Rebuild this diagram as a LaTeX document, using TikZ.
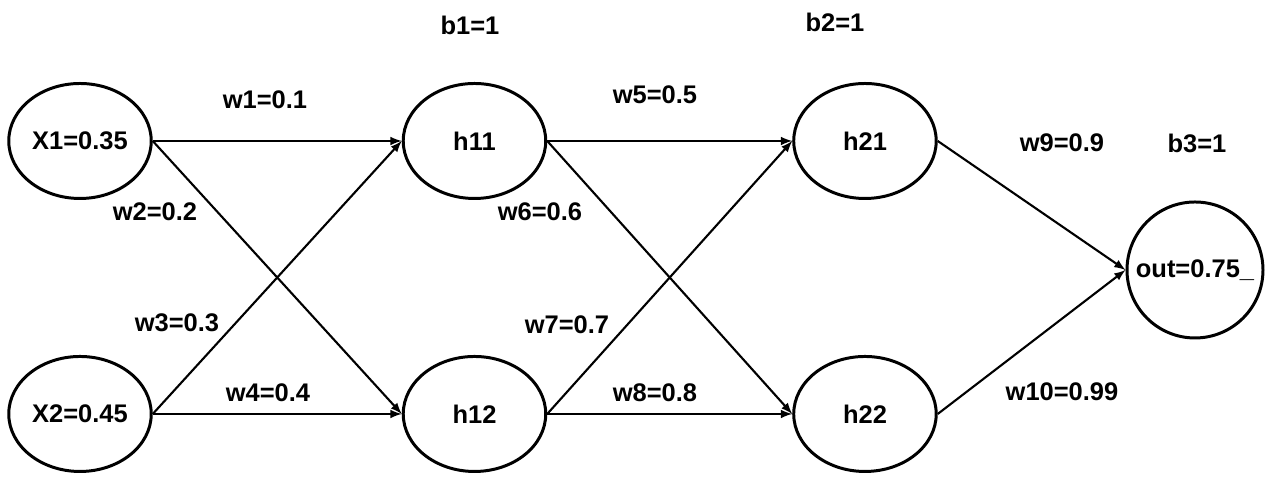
\documentclass[tikz,border=0pt]{standalone}
\usepackage{fontspec}
\setmainfont{Liberation Sans}
\usepackage{tikz}
\tikzset{neuron/.style={draw,ellipse,line width=1.7pt,minimum width=2.85cm,minimum height=2.3cm,inner sep=0pt} }
\tikzset{outneuron/.style={draw,circle,line width=1.7pt,minimum size=2.72cm,inner sep=0pt} }
\tikzset{wire/.style={-latex,line width=1.2pt} }
\usetikzlibrary{positioning,shapes.geometric}

\begin{document}
\begin{tikzpicture}[font=\fontsize{14.5}{17}\selectfont\bfseries]
    \useasboundingbox (0,0) rectangle (25.3,9.54);
    \node[neuron] (x1) at (1.6,6.72) {X1=0.35};
    \node[neuron,below=3.1cm of x1] (x2) {X2=0.45};
    \node[neuron,right=4.98cm of x1] (h11) {h11};
    \node[neuron,below=3.1cm of h11] (h12) {h12};
    \node[neuron,right=4.9cm of h11] (h21) {h21};
    \node[neuron,below=3.1cm of h21] (h22) {h22};
    \node[outneuron] (out) at (23.9,4.14) {out=0.75\_};
    % biases
    \node (b1) at (9.4,9.04) {b1=1};
    \node (b2) at (16.7,9.1) {b2=1};
    \node (b3) at (23.94,6.68) {b3=1};
    % weights
    \node (w1) at (5.3,7.54) {w1=0.1};
    \node (w2) at (3.1,5.3) {w2=0.2};
    \node (w3) at (3.54,3.08) {w3=0.3};
    \node (w4) at (5.36,1.68) {w4=0.4};
    \node (w5) at (13.1,7.64) {w5=0.5};
    \node (w6) at (10.8,5.3) {w6=0.6};
    \node (w7) at (11.34,3.04) {w7=0.7};
    \node (w8) at (13.1,1.68) {w8=0.8};
    \node (w9) at (21.24,6.68) {w9=0.9};
    \node (w10) at (21.24,1.7) {w10=0.99};
    \draw[wire] (x1.east) -- (h11.west);
    \draw[wire] (x1.east) -- (h12.west);
    \draw[wire] (x2.east) -- (h11.west);
    \draw[wire] (x2.east) -- (h12.west);
    \draw[wire] (h11.east) -- (h21.west);
    \draw[wire] (h11.east) -- (h22.west);
    \draw[wire] (h12.east) -- (h21.west);
    \draw[wire] (h12.east) -- (h22.west);
    \draw[wire] (h21.east) -- (out.west);
    \draw[wire] (h22.east) -- (out.west);
\end{tikzpicture}
\end{document}
